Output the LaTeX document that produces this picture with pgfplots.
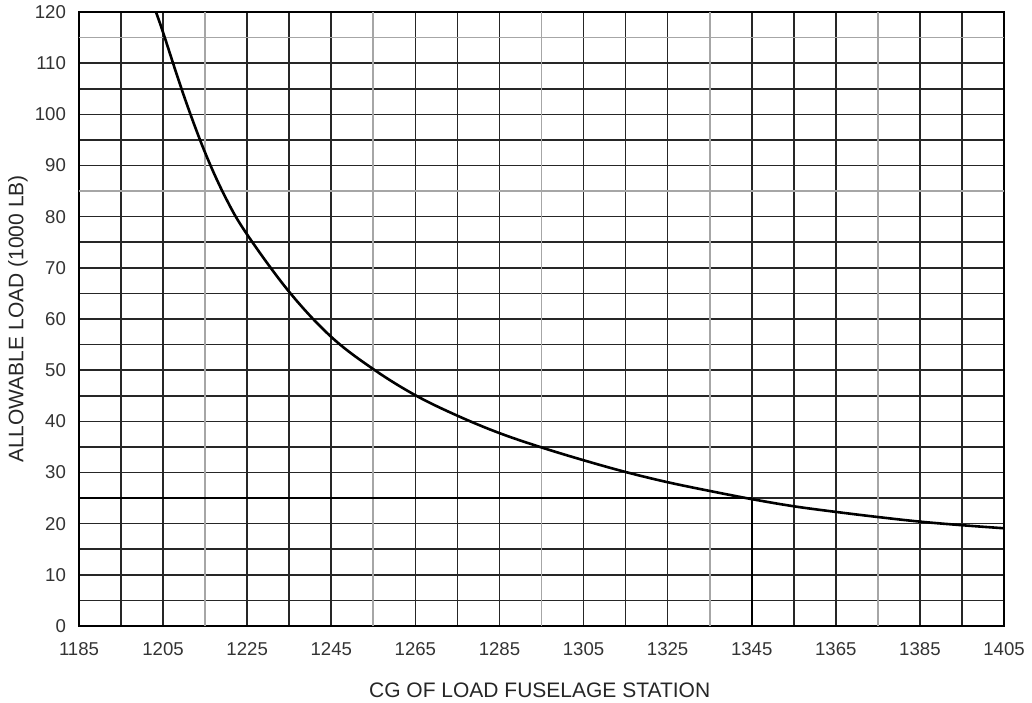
\documentclass[border=0pt]{standalone}
\usepackage{pgfplots}
\pgfplotsset{compat=1.18}
\usepackage{fontspec}
\setmainfont{Liberation Sans}
\begin{document}
\begin{tikzpicture}
\useasboundingbox (-39.5pt,-38pt) rectangle (476.5pt,313pt);
\begin{axis}[
  scale only axis,
  width=462.5pt, height=307pt,
  xmin=1185, xmax=1405, ymin=0, ymax=120,
  xtick={1185,1205,...,1405},
  ytick={0,10,...,120},
  minor x tick num=1,
  minor y tick num=1,
  major tick length=0pt, minor tick length=0pt,
  grid=both,
  major grid style={black!85, line width=0.8pt},
  minor grid style={black!85, line width=0.8pt},
  axis line style={black, line width=1.1pt},
  /pgf/number format/assume math mode=true,
  /pgf/number format/1000 sep={},
  tick label style={font=\fontsize{9.3}{11}\selectfont, text=black!80},
  xticklabel style={yshift=-4.5pt},
  yticklabel style={xshift=-3pt},
  xlabel={CG OF LOAD FUSELAGE STATION},
  ylabel={ALLOWABLE LOAD (1000 LB)},
  label style={font=\fontsize{10.5}{12}\selectfont, text=black!85},
  xlabel style={at={(axis description cs:0.498,-0.104)}, anchor=center},
  ylabel style={at={(axis description cs:-0.066,0.5)}, anchor=center},
  clip=true,
]
% grey grid lines (as in the reference)
\draw[black!35, line width=0.9pt] (axis cs:1215,0) -- (axis cs:1215,120);
\draw[black!35, line width=0.9pt] (axis cs:1255,0) -- (axis cs:1255,120);
\draw[black!35, line width=0.9pt] (axis cs:1295,0) -- (axis cs:1295,120);
\draw[black!35, line width=0.9pt] (axis cs:1335,0) -- (axis cs:1335,120);
\draw[black!35, line width=0.9pt] (axis cs:1375,0) -- (axis cs:1375,120);
\draw[black!35, line width=0.9pt] (axis cs:1185,115) -- (axis cs:1405,115);
\draw[black!35, line width=0.9pt] (axis cs:1185,85) -- (axis cs:1405,85);

\addplot[black, line width=1.3pt, smooth, tension=0.6] coordinates {
(1203.3,120) (1205,116) (1210,103.5) (1215,92.5) (1220,83.5) (1225,76.5)
(1235,65.3) (1245,56.5) (1255,50.2) (1265,45.1) (1275,41.1)
(1285,37.7) (1295,34.9) (1305,32.4) (1315,30.1) (1325,28.1) (1335,26.4)
(1345,24.8) (1355,23.4) (1365,22.3) (1375,21.3) (1385,20.4) (1395,19.7)
(1405,19.1)};
\addplot[black, line width=1.2pt] coordinates {(1185,25) (1345,25)};
\addplot[black, line width=1.2pt] coordinates {(1345,25) (1345,0)};
\end{axis}
\end{tikzpicture}
\end{document}
